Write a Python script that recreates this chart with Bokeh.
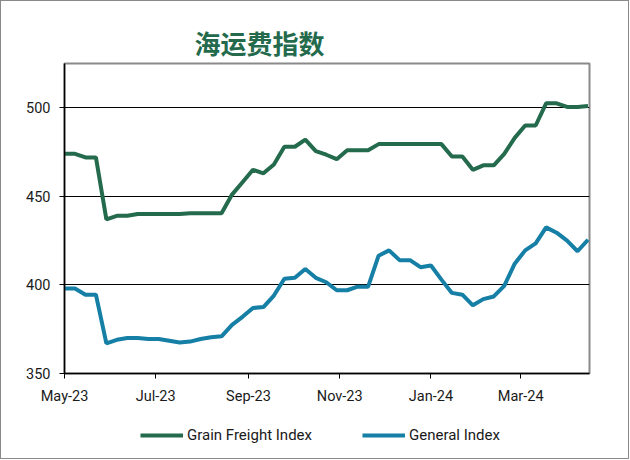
import pandas as pd
from bokeh.plotting import figure
from bokeh.layouts import column
from bokeh.models import (Range1d, FixedTicker, DatetimeTickFormatter, Legend, LegendItem,
                          ColumnDataSource)
from bokeh.embed import file_html
from bokeh.resources import INLINE

# ---- data (weekly) ----
first_week = "2023-05-01"
grain = [474, 474, 472, 472, 437, 439, 439, 440, 440, 440,
         440, 440, 440.5, 440.5, 440.5, 440.5, 451, 458, 465, 463,
         468, 478, 478, 482, 475.5, 473.5, 471, 476, 476, 476,
         479.5, 479.5, 479.5, 479.5, 479.5, 479.5, 479.5, 472.5, 472.5, 465,
         467.5, 467.5, 474, 483, 490, 490, 502.5, 502.5, 500.5, 500.5,
         501]
general = [398, 398, 394.5, 394.5, 367, 369, 370, 370, 369.5, 369.5,
           368.5, 367.5, 368, 369.5, 370.5, 371, 377.5, 382, 387, 387.5,
           394, 403.5, 404, 409, 404, 401.5, 397, 397, 399, 399,
           416.5, 419.5, 414, 414, 410, 411, 403, 395.5, 394.5, 388.5,
           392, 393.5, 399.5, 412, 419.5, 423.5, 432.5, 429.5, 425, 419,
           425.5]
dates = pd.date_range(first_week, periods=len(grain), freq="7D")
tick_dates = ["2023-05-01", "2023-07-01", "2023-09-01", "2023-11-01", "2024-01-01", "2024-03-01"]
x_start, x_end = "2023-05-01", "2024-04-16"
y_ticks = [350, 400, 450, 500]
y_min, y_max = 350, 525
series_names = ["Grain Freight Index", "General Index"]
title_text = "海运费指数"

GREEN = "#246a4c"
BLUE = "#157fa6"

src = ColumnDataSource(dict(date=dates, grain=grain, general=general))

p = figure(frame_width=525, frame_height=310, x_axis_type="datetime",
           output_backend="svg", toolbar_location=None,
           x_range=Range1d(pd.Timestamp(x_start), pd.Timestamp(x_end)),
           y_range=Range1d(y_min, y_max),
           min_border_left=63, min_border_right=39,
           min_border_top=62, min_border_bottom=40)
p.background_fill_color = "white"
p.border_fill_color = "white"
p.outline_line_color = "#8a8a8a"
p.outline_line_width = 2

r1 = p.line("date", "grain", source=src, color=GREEN, line_width=4)
r2 = p.line("date", "general", source=src, color=BLUE, line_width=4)

# axes
xt = FixedTicker(ticks=[pd.Timestamp(d).timestamp() * 1000 for d in tick_dates])
p.xaxis.ticker = xt
p.xaxis.formatter = DatetimeTickFormatter(days="%b-%y", months="%b-%y", years="%b-%y")
p.yaxis.ticker = FixedTicker(ticks=y_ticks)
for ax in (p.xaxis, p.yaxis):
    ax.axis_line_color = "black"
    ax.axis_line_width = 1.5
    ax.major_tick_line_color = "black"
    ax.major_tick_in = 0
    ax.major_tick_out = 5
    ax.minor_tick_line_color = None
    ax.major_label_text_font = "Roboto"
    ax.major_label_text_font_size = "14.5px"
    ax.major_label_text_color = "#1a1a1a"
p.xaxis.major_label_standoff = 9
p.yaxis.major_label_standoff = 9

p.xgrid.visible = False
p.ygrid.ticker = FixedTicker(ticks=y_ticks)
p.ygrid.grid_line_color = "black"
p.ygrid.grid_line_width = 1

# title
p.title.text = title_text
p.title.text_font = "Noto Sans CJK SC"
p.title.text_font_style = "bold"
p.title.text_font_size = "26px"
p.title.text_color = GREEN
p.title.align = "left"
p.title.offset = 130
p.title.standoff = 6

# ---- legend strip below the chart (same series, kept out of view) ----
q = figure(width=627, height=45, output_backend="svg", toolbar_location=None,
           x_axis_location=None, y_axis_location=None,
           x_range=Range1d(0, 1), y_range=Range1d(0, 1), min_border=0)
q.outline_line_color = None
q.grid.visible = False
q.background_fill_color = "white"
q.border_fill_color = "white"
k1 = q.line("date", "grain", source=src, color=GREEN, line_width=4)
k2 = q.line("date", "general", source=src, color=BLUE, line_width=4)
legend = Legend(items=[LegendItem(label=series_names[0], renderers=[k1]),
                       LegendItem(label=series_names[1], renderers=[k2])],
                orientation="horizontal", location=(76, 14),
                padding=0, margin=0, spacing=50,
                glyph_width=43, glyph_height=18, label_standoff=4,
                label_text_font="Roboto", label_text_font_size="15px",
                label_text_color="#1a1a1a",
                border_line_color=None, background_fill_alpha=0)
q.add_layout(legend)

layout = column(p, q, spacing=0)
layout.styles = {"border": "1px solid #8a8a8a"}

open("out.html", "w").write(file_html(layout, INLINE))
